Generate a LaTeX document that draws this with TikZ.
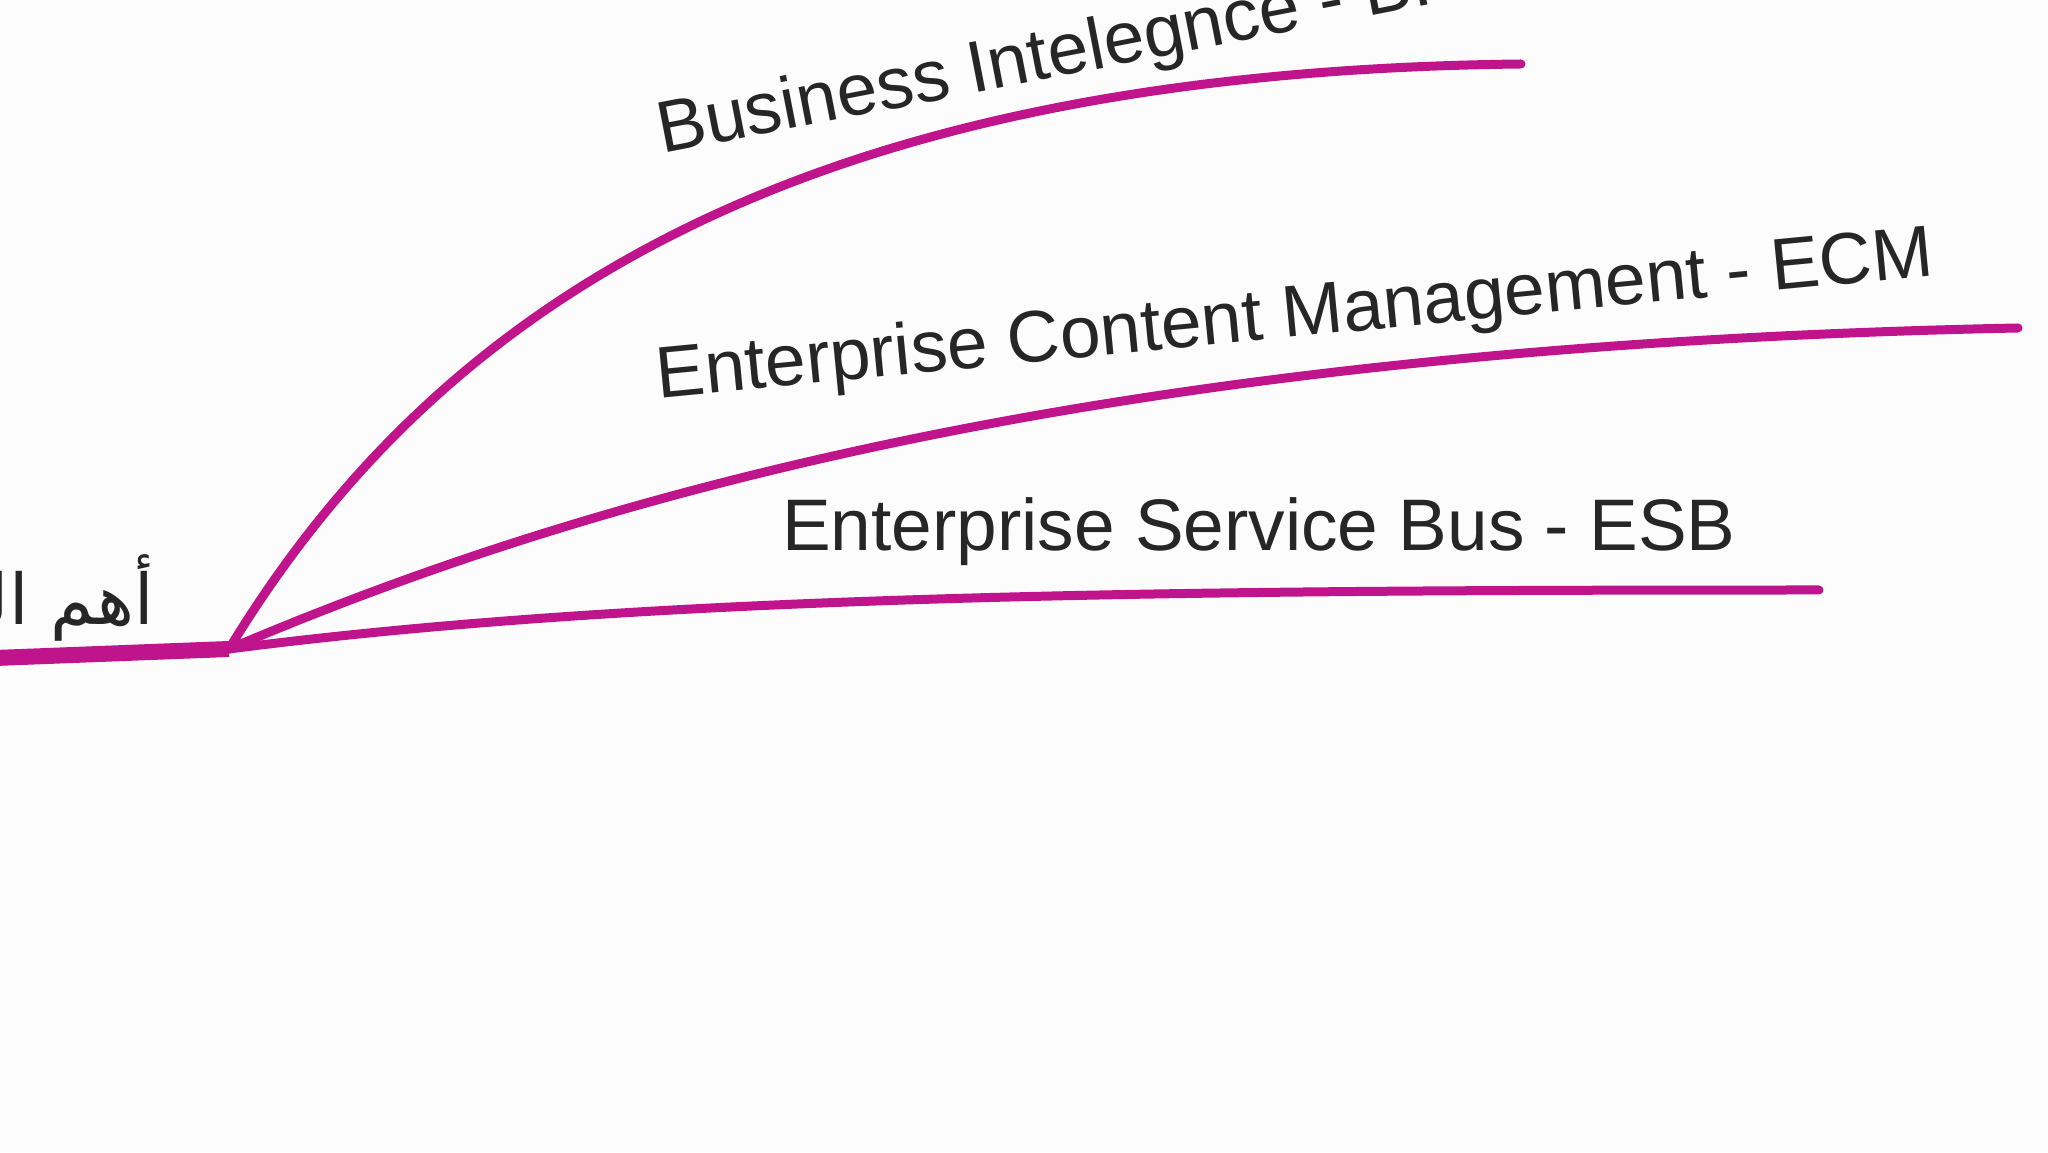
\documentclass[tikz,border=0pt]{standalone}
\usepackage{fontspec}
\setmainfont{Liberation Sans}
\newfontfamily\arabicfont[Script=Arabic]{DejaVu Sans}
\TeXXeTstate=1
\definecolor{br}{HTML}{C0148C}
\definecolor{tx}{HTML}{262626}
\begin{document}
\begin{tikzpicture}[x=1pt,y=1pt,
  branch/.style={draw=br,line width=9pt,line cap=round},
  lbl/.style={text=tx,font=\fontsize{73}{78}\selectfont,inner sep=0pt}]
\fill[white!99!black] (0,0) rectangle (2048,1152);
\useasboundingbox (0,0) rectangle (2048,1152);
\begin{scope}
\clip (0,0) rectangle (2048,1152);
\coordinate (j) at (229,503);
\coordinate (s) at (-5,494);
\coordinate (bi) at (1521,1088);
\coordinate (ecm) at (2018,824);
\coordinate (esb) at (1819,562);
\draw[br,line width=16pt] (s) -- (j);
\draw[branch] (j) .. controls (440,850) and (800,1080) .. (bi);
\draw[branch] (j) .. controls (588,656) and (1110,806) .. (ecm);
\draw[branch] (j) .. controls (653,558) and (1175,562) .. (esb);
\node[lbl,rotate=11] (tbi) at (1045,1092) {Business Intelegnce - BI};
\node[lbl,rotate=5.5] (tecm) at (1295,834) {Enterprise Content Management - ECM};
\node[lbl] (tesb) at (1259,620) {Enterprise Service Bus - ESB};
\node[text=tx,anchor=south east,inner sep=0pt,font=\arabicfont\fontsize{70}{80}\selectfont] (ar) at (154,510) {\beginR أهم المكونات\endR};
\end{scope}
\end{tikzpicture}
\end{document}
